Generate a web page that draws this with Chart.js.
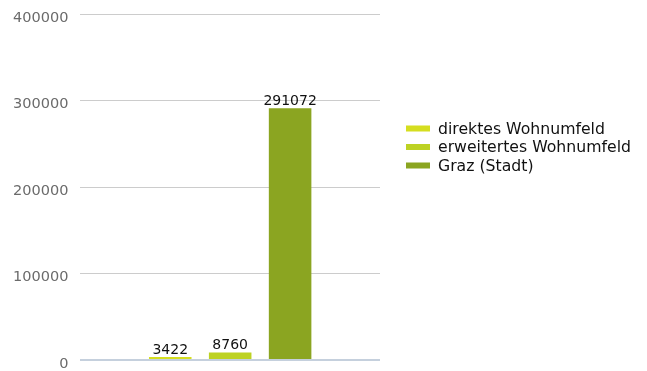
<!DOCTYPE html>
<html>
<head>
  <title>Wohnumfeld</title>
  <script src="https://cdn.jsdelivr.net/npm/chart.js"></script>
  <style>
    html, body {
      margin: 0;
      padding: 0;
      background: #ffffff;
    }
    #wrap {
      width: 647px;
      height: 371px;
      position: relative;
    }
  </style>
</head>
<body>
  <div id="wrap"><canvas id="balken"></canvas></div>

  <script>
    // Daten
    var kategorien = ['direktes Wohnumfeld', 'erweitertes Wohnumfeld', 'Graz (Stadt)'];
    var werte = [3422, 8760, 291072];
    var yTicks = [0, 100000, 200000, 300000, 400000];

    var farben = ['#d5de1f', '#bdd223', '#8ba521'];

    // Werte ueber den Balken
    var wertLabels = {
      id: 'wertLabels',
      afterDatasetsDraw: function (chart) {
        var ctx = chart.ctx;
        ctx.save();
        ctx.font = '14px "DejaVu Sans"';
        ctx.fillStyle = '#111111';
        ctx.textAlign = 'center';
        ctx.textBaseline = 'alphabetic';
        chart.data.datasets.forEach(function (ds, i) {
          var bar = chart.getDatasetMeta(i).data[0];
          ctx.fillText(String(ds.data[0]), bar.x, bar.y - 3.5);
        });
        ctx.restore();
      }
    };

    // Legende rechts
    var legende = {
      id: 'legende',
      afterDraw: function (chart) {
        var ctx = chart.ctx;
        var x = 406, y = 128.5, abstand = 18.5;
        ctx.save();
        ctx.font = '15.7px "DejaVu Sans"';
        ctx.textBaseline = 'middle';
        chart.data.datasets.forEach(function (ds, i) {
          ctx.fillStyle = ds.backgroundColor;
          ctx.fillRect(x, y + i * abstand - 3, 24, 6);
          ctx.fillStyle = '#111111';
          ctx.fillText(ds.label, x + 32, y + i * abstand + 1);
        });
        ctx.restore();
      }
    };

    var ctx = document.getElementById('balken').getContext('2d');
    var chart = new Chart(ctx, {
      type: 'bar',
      data: {
        labels: [''],
        datasets: kategorien.map(function (k, i) {
          return {
            label: k,
            data: [werte[i]],
            backgroundColor: farben[i],
            borderWidth: 0,
            barPercentage: 0.71,
            categoryPercentage: 0.6
          };
        })
      },
      options: {
        responsive: true,
        maintainAspectRatio: false,
        animation: false,
        layout: {
          padding: { left: 13, right: 267, top: 14, bottom: 11 }
        },
        scales: {
          x: {
            display: false
          },
          y: {
            min: 0,
            max: 400000,
            afterBuildTicks: function (axis) {
              axis.ticks = yTicks.map(function (v) { return { value: v }; });
            },
            border: { display: false },
            grid: {
              drawTicks: true,
              tickLength: 12,
              tickColor: 'rgba(0,0,0,0)',
              color: function (c) {
                return c.tick && c.tick.value === 0 ? '#c5d0dd' : '#cccccc';
              },
              lineWidth: function (c) {
                return c.tick && c.tick.value === 0 ? 2 : 1;
              }
            },
            ticks: {
              padding: 0,
              labelOffset: 4,
              color: '#6b6b6b',
              font: { family: 'DejaVu Sans', size: 14.5 },
              callback: function (v) { return String(v); }
            }
          }
        },
        plugins: {
          legend: { display: false },
          tooltip: { enabled: false }
        }
      },
      plugins: [wertLabels, legende]
    });
  </script>
</body>
</html>
